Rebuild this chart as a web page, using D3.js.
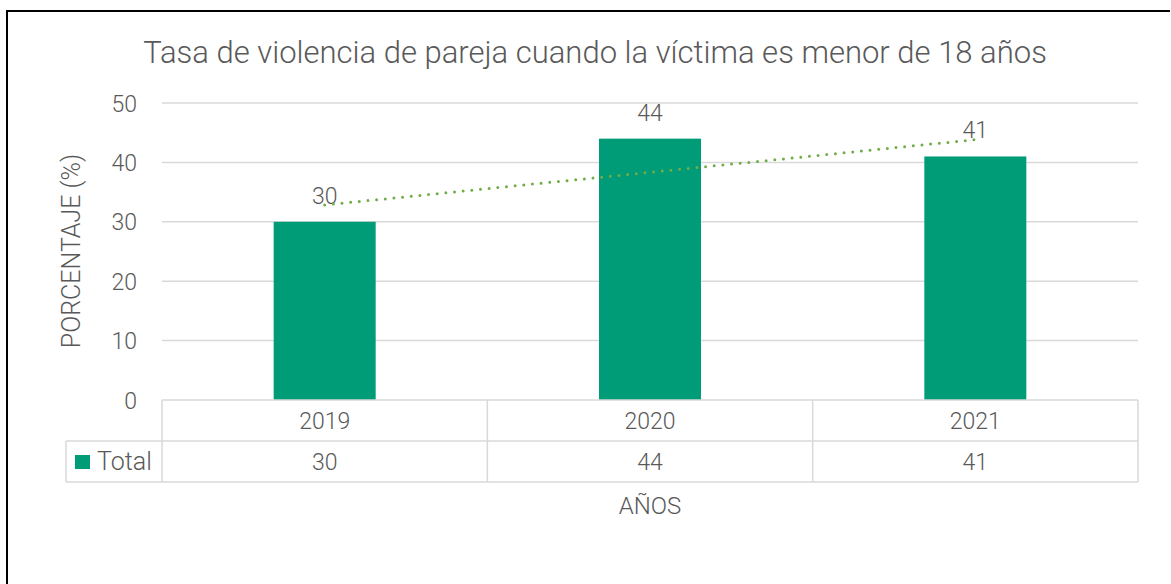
<!DOCTYPE html>
<html><head><meta charset="utf-8">
<script src="https://cdn.jsdelivr.net/npm/d3@7"></script>
<style>body{margin:0;background:#fff;}svg{display:block;font-family:Roboto,"Noto Sans",sans-serif;font-weight:300;}</style>
</head><body><svg id="c" width="1171" height="584"></svg>
<script>
const categories = ["2019","2020","2021"];
const totalValues = [30,44,41];
const yTicks = [0,10,20,30,40,50];
const seriesName = "Total";
const titleText = "Tasa de violencia de pareja cuando la víctima es menor de 18 años";
const yTitle = "PORCENTAJE (%)";
const xTitle = "AÑOS";

(function(){
const svg = d3.select("#c");
const textColor = "#595959", gridColor = "#d9d9d9", barColor = "#009B77", trendColor = "#70AD47";
const pLeft = 162, pRight = 1138, pTop = 103, pBottom = 400;
const x = d3.scaleBand().domain(categories).range([pLeft,pRight]).paddingInner(0).paddingOuter(0);
const y = d3.scaleLinear().domain([0,50]).range([pBottom,pTop]);

// frame (top and left only)
svg.append("line").attr("x1",6).attr("x2",1170).attr("y1",11).attr("y2",11).attr("stroke","#000").attr("stroke-width",2);
svg.append("line").attr("x1",7).attr("x2",7).attr("y1",10).attr("y2",584).attr("stroke","#000").attr("stroke-width",2);

// title
svg.append("text").attr("x",595).attr("y",63).attr("text-anchor","middle").attr("fill",textColor)
  .attr("font-size",31).text(titleText);

// gridlines
svg.append("g").selectAll("line").data(yTicks.filter(d=>d>0)).join("line")
  .attr("x1",pLeft).attr("x2",pRight).attr("y1",d=>y(d)).attr("y2",d=>y(d))
  .attr("stroke",gridColor).attr("stroke-width",1.5);

// y axis labels
const yAxis = d3.axisLeft(y).tickValues(yTicks).tickSize(0).tickPadding(0);
const gy = svg.append("g").attr("transform",`translate(${137},0)`).call(yAxis);
gy.select(".domain").remove();
gy.selectAll("text").attr("fill",textColor).attr("font-size",23).attr("font-family","Roboto").attr("font-weight",300).attr("dy","0.35em");

// y title
svg.append("text").attr("transform",`translate(80,251) rotate(-90)`).attr("text-anchor","middle")
  .attr("fill",textColor).attr("font-size",25).text(yTitle);

// bars
const barW = 102;
svg.append("g").selectAll("rect").data(totalValues).join("rect")
  .attr("x",(d,i)=>x(categories[i])+x.bandwidth()/2-barW/2).attr("width",barW)
  .attr("y",d=>y(d)).attr("height",d=>y(0)-y(d)).attr("fill",barColor);

// data labels
svg.append("g").selectAll("text").data(totalValues).join("text")
  .attr("x",(d,i)=>x(categories[i])+x.bandwidth()/2).attr("y",d=>y(d)-18)
  .attr("text-anchor","middle").attr("fill",textColor).attr("font-size",23).text(d=>d);

// linear trendline
const n = totalValues.length, xs = totalValues.map((d,i)=>i+1);
const mx = d3.mean(xs), my = d3.mean(totalValues);
const slope = d3.sum(xs.map((xi,i)=>(xi-mx)*(totalValues[i]-my)))/d3.sum(xs.map(xi=>(xi-mx)**2));
const icpt = my - slope*mx;
const ends = [xs[0], xs[n-1]];
svg.append("line")
  .attr("x1",x(categories[0])+x.bandwidth()/2).attr("y1",y(icpt+slope*ends[0]))
  .attr("x2",x(categories[n-1])+x.bandwidth()/2).attr("y2",y(icpt+slope*ends[1]))
  .attr("stroke",trendColor).attr("stroke-width",3).attr("stroke-linecap","round")
  .attr("stroke-dasharray","0 8.7");

// data table
const rowH = 41, tableTop = 400, legendLeft = 66;
const tg = svg.append("g").attr("stroke",gridColor).attr("stroke-width",1.5).attr("fill","none");
tg.append("line").attr("x1",pLeft).attr("x2",pRight).attr("y1",tableTop).attr("y2",tableTop);
tg.append("line").attr("x1",legendLeft).attr("x2",pRight).attr("y1",tableTop+rowH).attr("y2",tableTop+rowH);
tg.append("line").attr("x1",legendLeft).attr("x2",pRight).attr("y1",tableTop+2*rowH).attr("y2",tableTop+2*rowH);
tg.append("line").attr("x1",legendLeft).attr("x2",legendLeft).attr("y1",tableTop+rowH).attr("y2",tableTop+2*rowH);
const vx = categories.map(c=>x(c)).concat([pRight]);
tg.selectAll("line.v").data(vx).join("line").attr("class","v")
  .attr("x1",d=>d).attr("x2",d=>d).attr("y1",tableTop).attr("y2",tableTop+2*rowH);

svg.append("g").selectAll("text").data(categories).join("text")
  .attr("x",d=>x(d)+x.bandwidth()/2).attr("y",tableTop+rowH/2).attr("dy","0.35em")
  .attr("text-anchor","middle").attr("fill",textColor).attr("font-size",23).text(d=>d);
svg.append("g").selectAll("text").data(totalValues).join("text")
  .attr("x",(d,i)=>x(categories[i])+x.bandwidth()/2).attr("y",tableTop+rowH*1.5).attr("dy","0.35em")
  .attr("text-anchor","middle").attr("fill",textColor).attr("font-size",23).text(d=>d);
svg.append("rect").attr("x",75).attr("y",455).attr("width",15).attr("height",14).attr("fill",barColor);
svg.append("text").attr("x",97).attr("y",tableTop+rowH*1.5).attr("dy","0.35em").attr("fill",textColor)
  .attr("font-size",25).text(seriesName);

// x title
svg.append("text").attr("x",650).attr("y",506).attr("dy","0.35em").attr("text-anchor","middle")
  .attr("fill",textColor).attr("font-size",24).text(xTitle);
})();
</script></body></html>
